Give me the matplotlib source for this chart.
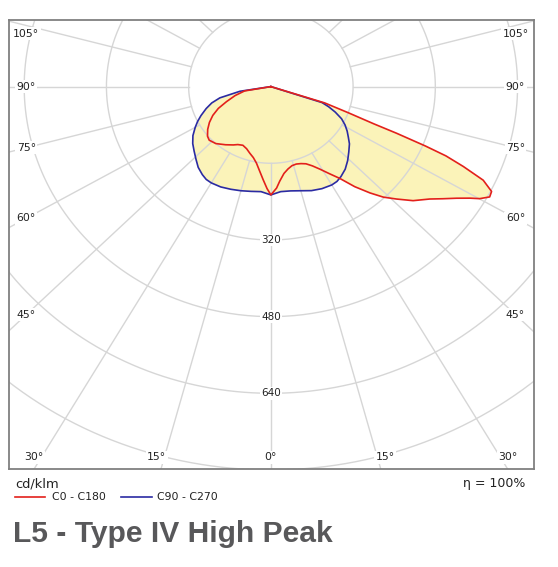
import numpy as np
import matplotlib
matplotlib.use("Agg")
import matplotlib.pyplot as plt
from matplotlib.lines import Line2D

# luminous intensity (cd/klm) against gamma angle, one list per half plane
c0_angles = [0, 3, 5, 8, 11, 14, 17, 20, 23, 26, 29, 32, 35, 38, 41, 43.5, 46.2, 49.3,
             52.8, 55, 57.2, 59, 60.1, 61.6, 63, 64.7, 66, 67, 67.6, 68.3, 68.8, 70.1, 72, 90]
c0_values = [226, 212, 198, 183, 175, 170, 169, 171, 175, 184, 197, 214, 234, 265, 294, 318, 339, 365,
             388, 408, 430, 452, 469, 484, 482, 457, 410, 370, 325, 263, 215, 160, 110, 0]

c180_angles = [0, 2, 4.4, 7, 10, 13, 16.4, 20, 24, 28, 31, 36, 42, 47, 50, 54, 58, 62, 66, 70, 75, 80, 90]
c180_values = [226, 213, 195, 178, 162, 152, 145, 138, 134, 137, 142, 150, 160, 164, 161, 152, 141, 128,
               112, 92, 72, 52, 0]

c90_angles = [0, 5, 10, 15, 20, 25, 30, 33, 36, 40, 44, 48, 52, 55, 58, 61, 64, 67, 69.5, 71.5, 90]
c90_values = [226, 220, 221, 225, 231, 235, 237, 236, 232, 225, 215, 204, 194, 184, 175, 165, 153, 136,
              120, 105, 0]

c270_angles = [0, 5, 10, 15, 20, 25, 30, 33, 36, 40, 44, 48, 52, 56, 60, 63, 66, 70, 73.5, 76.7, 80.8, 90]
c270_values = [226, 220, 222, 225, 228, 231, 232, 231, 227, 220, 210, 201, 193, 183, 170, 160, 149, 134,
               120, 102, 61, 0]

grid_radii = [160, 320, 480, 640, 800]
radius_labels = [320, 480, 640]
angle_labels = [0, 15, 30, 45, 60, 75, 90, 105]

W, H = 558, 567
FILL = "#fbf3b9"
RED = "#e3201b"
BLUE = "#2b2ba3"
GRID = "#d6d6d6"


def half_xy(angles, values, side):
    th = np.radians(angles)
    r = np.asarray(values, dtype=float)
    return side * r * np.sin(th), -r * np.cos(th)


def curve(left_a, left_v, right_a, right_v):
    lx, ly = half_xy(left_a, left_v, -1)
    rx, ry = half_xy(right_a, right_v, 1)
    return np.concatenate([lx[::-1], rx]), np.concatenate([ly[::-1], ry])


fig = plt.figure(figsize=(W / 100, H / 100), dpi=100)
ax = fig.add_axes([9.3 / W, 1 - 469 / H, (534 - 9.3) / W, (469 - 20) / H])
ax.set_xlim(-509, 512)
ax.set_ylim(-798, 139)
ax.set_xticks([])
ax.set_yticks([])
for s in ax.spines.values():
    s.set_color("#808080")
    s.set_linewidth(1.3)

red_x, red_y = curve(c180_angles, c180_values, c0_angles, c0_values)
blue_x, blue_y = curve(c270_angles, c270_values, c90_angles, c90_values)

# union of both distributions in pale yellow
ax.fill(red_x, red_y, color=FILL, lw=0, zorder=1)
ax.fill(blue_x, blue_y, color=FILL, lw=0, zorder=1)

# polar grid
t = np.linspace(0, 2 * np.pi, 500)
for r in grid_radii:
    ax.plot(r * np.sin(t), r * np.cos(t), color=GRID, lw=1.0, zorder=2)
for a in range(0, 360, 15):
    th = np.radians(a)
    ax.plot([160 * np.sin(th), 2000 * np.sin(th)], [-160 * np.cos(th), -2000 * np.cos(th)],
            color=GRID, lw=1.0, zorder=2)

ax.plot(red_x, red_y, color=RED, lw=1.2, zorder=4)
ax.plot(blue_x, blue_y, color=BLUE, lw=1.2, zorder=3)

box = dict(facecolor="white", edgecolor="none", pad=1.0)
for r in radius_labels:
    ax.text(0, -r, str(r), ha="center", va="center", fontsize=7.5, color="#222222",
            bbox=box, zorder=5)

for a in angle_labels:
    th = np.radians(a)
    if a >= 45:
        ypos = min(-476 * np.cos(th) / np.sin(th), 110)
        for side in (-1, 1):
            ax.text(side * 476, ypos, f"{a}°", ha="center", va="center",
                    fontsize=7.8, color="#222222", bbox=box, zorder=5)
    elif a == 0:
        ax.text(0, -774, "0°", ha="center", va="center", fontsize=7.8, color="#222222",
                bbox=box, zorder=5)
    else:
        for side in (-1, 1):
            ax.text(side * (774 * np.tan(th) + 15), -774, f"{a}°", ha="center", va="center",
                    fontsize=7.8, color="#222222", bbox=box, zorder=5)

# texts under the diagram
fig.text(15.7 / W, 1 - 484 / H, "cd/klm", ha="left", va="center", fontsize=9.4, color="#222222")
fig.text(525 / W, 1 - 484 / H, "η = 100%", ha="right", va="center", fontsize=9, color="#222222")

ly = 1 - 497 / H
fig.add_artist(Line2D([14.7 / W, 45 / W], [ly, ly], color=RED, lw=1.2))
fig.text(51.7 / W, ly, "C0 - C180", ha="left", va="center", fontsize=7.8, color="#222222")
fig.add_artist(Line2D([120.7 / W, 151.7 / W], [ly, ly], color=BLUE, lw=1.2))
fig.text(157.3 / W, ly, "C90 - C270", ha="left", va="center", fontsize=7.8, color="#222222")

fig.text(13.3 / W, 1 - 541.7 / H, "L5 - Type IV High Peak", ha="left", va="baseline",
         fontsize=21.6, fontweight="bold", family="Liberation Sans", color="#58585a")

fig.savefig("out.png", dpi=100)
